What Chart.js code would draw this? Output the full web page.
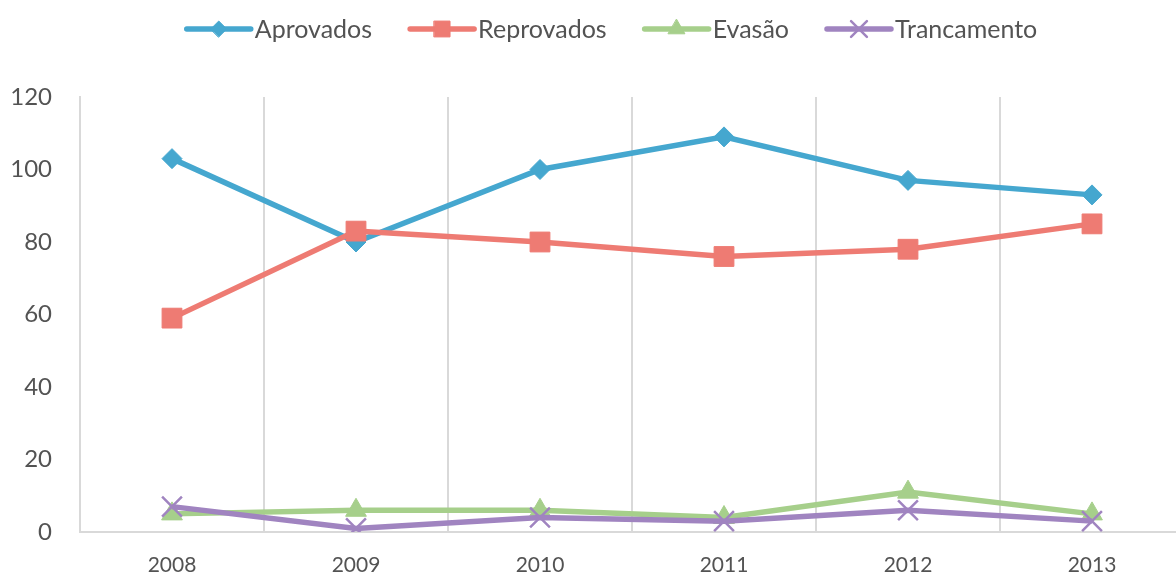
<!DOCTYPE html>
<html>
<head>
<meta charset="utf-8">
<script src="https://cdn.jsdelivr.net/npm/chart.js@4"></script>
<style>
  html, body { margin: 0; padding: 0; background: #fff; overflow: hidden; }
  #wrap { width: 1224px; height: 575px; }
</style>
</head>
<body>
<div id="wrap"><canvas id="myChart"></canvas></div>
<script>
// Data
const years = ['2008', '2009', '2010', '2011', '2012', '2013'];
const aprovados = [103, 80, 100, 109, 97, 93];
const reprovados = [59, 83, 80, 76, 78, 85];
const evasao = [5, 6, 6, 4, 11, 5];
const trancamento = [7, 1, 4, 3, 6, 3];

const textColor = '#535353';
const gridColor = '#d9d9d9';
const fontFamily = 'Lato, "Open Sans", sans-serif';

// Legend drawn as line + marker, like the spreadsheet legend
const lineLegend = {
  id: 'lineLegend',
  afterDraw(chart) {
    const ctx = chart.ctx;
    ctx.save();
    ctx.font = '25px ' + fontFamily;
    ctx.textBaseline = 'middle';
    const lineLen = 64, gapText = 4, gapItem = 38, y = 29;
    const items = chart.data.datasets.map(ds => ({ ds, w: ctx.measureText(ds.label).width }));
    const total = items.reduce((s, it) => s + lineLen + gapText + it.w, 0) + gapItem * (items.length - 1);
    let x = chart.width / 2 - total / 2;
    items.forEach(({ ds, w }) => {
      ctx.strokeStyle = ds.borderColor;
      ctx.lineWidth = ds.borderWidth;
      ctx.lineCap = 'round';
      ctx.beginPath();
      ctx.moveTo(x, y);
      ctx.lineTo(x + lineLen, y);
      ctx.stroke();
      ctx.fillStyle = ds.pointBackgroundColor;
      ctx.strokeStyle = ds.pointBorderColor;
      ctx.lineWidth = ds.pointBorderWidth;
      Chart.helpers.drawPoint(ctx, {
        pointStyle: ds.pointStyle,
        radius: ds.pointRadius * 0.8,
        borderWidth: ds.pointBorderWidth,
        rotation: 0
      }, x + lineLen / 2, y);
      ctx.fillStyle = textColor;
      ctx.textAlign = 'left';
      ctx.fillText(ds.label, x + lineLen + gapText, y + 1);
      x += lineLen + gapText + w + gapItem;
    });
    ctx.restore();
  }
};

function series(label, data, color, style, radius, bw, order) {
  return {
    label: label,
    data: data,
    borderColor: color,
    backgroundColor: color,
    borderWidth: 5.5,
    pointStyle: style,
    pointRadius: radius,
    pointHoverRadius: radius,
    pointBackgroundColor: color,
    pointBorderColor: color,
    pointBorderWidth: bw,
    tension: 0,
    fill: false,
    order: order
  };
}

const config = {
  type: 'line',
  data: {
    labels: years,
    datasets: [
      series('Aprovados', aprovados, '#45A7CF', 'rectRot', 10, 1, 4),
      series('Reprovados', reprovados, '#EE7B73', 'rect', 14, 1, 3),
      series('Evasão', evasao, '#A6CF8B', 'triangle', 12, 1, 2),
      series('Trancamento', trancamento, '#A084C0', 'crossRot', 14, 2.5, 1)
    ]
  },
  options: {
    responsive: true,
    maintainAspectRatio: false,
    animation: false,
    layout: { padding: { top: 97, right: 40, left: 0, bottom: 0 } },
    plugins: {
      legend: { display: false },
      tooltip: { enabled: false }
    },
    scales: {
      x: {
        offset: true,
        grid: { offset: true, color: gridColor, lineWidth: 2, drawTicks: false },
        border: { color: gridColor, width: 2 },
        ticks: { color: textColor, font: { family: fontFamily, size: 21 }, padding: 21 },
        afterFit: scale => { scale.height = 43; }
      },
      y: {
        min: 0,
        max: 120,
        ticks: { stepSize: 20, color: textColor, font: { family: fontFamily, size: 24 }, padding: 28 },
        grid: { display: false, drawTicks: false },
        border: { color: gridColor, width: 2 },
        afterFit: scale => { scale.width = 80; }
      }
    }
  },
  plugins: [lineLegend]
};

const ctx = document.getElementById('myChart').getContext('2d');
new Chart(ctx, config);
</script>
</body>
</html>
